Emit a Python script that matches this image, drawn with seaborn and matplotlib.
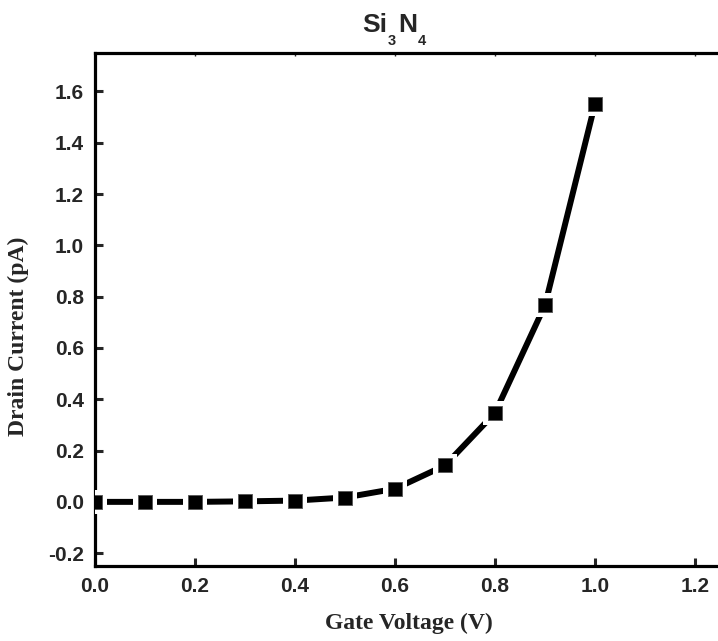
import matplotlib
matplotlib.use("Agg")
import matplotlib.pyplot as plt
import seaborn as sns
import pandas as pd

gate_voltage = [0.0, 0.1, 0.2, 0.3, 0.4, 0.5, 0.6, 0.7, 0.8, 0.9, 1.0]
drain_current = [0.0, 0.0, 0.0, 0.002, 0.005, 0.017, 0.051, 0.142, 0.347, 0.767, 1.552]
x_ticks = [0.0, 0.2, 0.4, 0.6, 0.8, 1.0, 1.2]
y_ticks = [-0.2, 0.0, 0.2, 0.4, 0.6, 0.8, 1.0, 1.2, 1.4, 1.6]

df = pd.DataFrame({"V": gate_voltage, "I": drain_current})

sns.set_style("ticks")

W, H = 718, 641
fig = plt.figure(figsize=(W / 100, H / 100), dpi=100)
ax = fig.add_axes([95 / W, 75 / H, 627 / W, 513 / H])

sns.lineplot(data=df, x="V", y="I", ax=ax, color="black", linewidth=4.3, zorder=2)
sns.scatterplot(data=df, x="V", y="I", ax=ax, marker="s", s=290, color="white",
                edgecolor="none", linewidth=0, zorder=3)
sns.scatterplot(data=df, x="V", y="I", ax=ax, marker="s", s=100, color="black",
                edgecolor="#555555", linewidth=0.6, zorder=4)

ax.set_xlim(0.0, 1.254)
ax.set_ylim(-0.25, 1.75)
ax.set_xticks(x_ticks)
ax.set_yticks(y_ticks)
ax.set_xticklabels([f"{t:.1f}" for t in x_ticks], fontfamily="Liberation Sans",
                   fontweight="bold", fontsize=15)
ax.set_yticklabels([f"{t:.1f}" for t in y_ticks], fontfamily="Liberation Sans",
                   fontweight="bold", fontsize=15)

ax.tick_params(axis="both", direction="in", length=6, width=2.2, pad=8)
ax.tick_params(axis="x", top=True, labeltop=False)
for t in ax.xaxis.get_major_ticks():
    t.tick2line.set_markersize(2.5)
    t.tick2line.set_markeredgewidth(1)

for side in ["left", "bottom", "top", "right"]:
    ax.spines[side].set_linewidth(2.3)
    ax.spines[side].set_color("black")

ax.set_xlabel("Gate Voltage (V)", fontfamily="Liberation Serif", fontweight="bold",
              fontsize=17, labelpad=12)
ax.set_ylabel("Drain Current (pA)", fontfamily="Liberation Serif", fontweight="bold",
              fontsize=17)
ax.yaxis.set_label_coords((29 - 95) / 627, (H - 336 - 75) / 513)

# Title Si3N4 with Origin-style dropped subscripts
tfont = dict(fontfamily="Liberation Sans", fontweight="bold", ha="left", va="baseline")
fig.text(362 / W, 1 - 32 / H, "Si", fontsize=19, **tfont)
fig.text(388 / W, 1 - 45 / H, "3", fontsize=10.5, **tfont)
fig.text(398 / W, 1 - 32 / H, "N", fontsize=19, **tfont)
fig.text(418 / W, 1 - 45 / H, "4", fontsize=10.5, **tfont)

fig.savefig("out.png", dpi=100)
